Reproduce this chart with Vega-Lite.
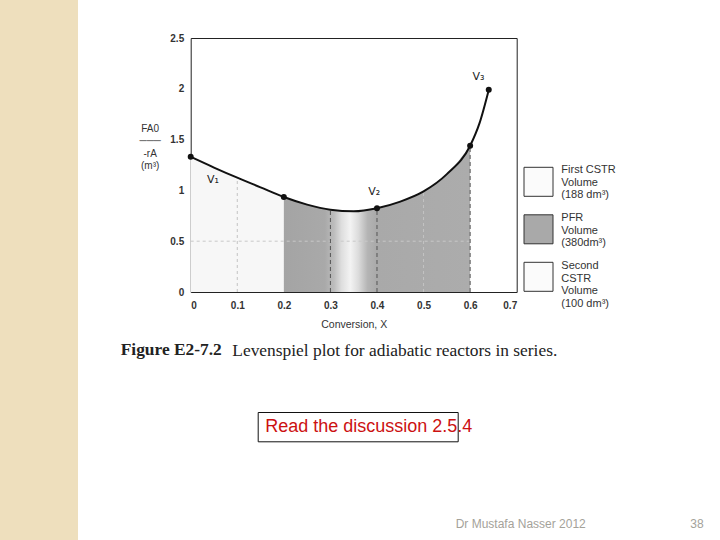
{
  "$schema": "https://vega.github.io/schema/vega-lite/v6.json",
  "padding": 0,
  "background": "white",
  "config": {
    "font": "Liberation Sans",
    "view": {"stroke": null},
    "axis": {"domain": false, "ticks": false, "grid": false}
  },
  "datasets": {
    "curve": [
      {"x": 0, "y": 1.33}, {"x": 0.05, "y": 1.225}, {"x": 0.1, "y": 1.125}, {"x": 0.15, "y": 1.03},
      {"x": 0.2, "y": 0.935}, {"x": 0.25, "y": 0.86}, {"x": 0.3, "y": 0.81}, {"x": 0.35, "y": 0.795},
      {"x": 0.4, "y": 0.825}, {"x": 0.45, "y": 0.89}, {"x": 0.5, "y": 0.99}, {"x": 0.55, "y": 1.16},
      {"x": 0.6, "y": 1.44}, {"x": 0.62, "y": 1.66}, {"x": 0.64, "y": 1.99}
    ],
    "pts": [{"x": 0, "y": 1.33}, {"x": 0.2, "y": 0.935}, {"x": 0.4, "y": 0.825}, {"x": 0.6, "y": 1.44}, {"x": 0.64, "y": 1.99}],
    "drops": [{"x": 0.3, "lo": 0, "top": 0.81}, {"x": 0.4, "lo": 0, "top": 0.825}, {"x": 0.6, "lo": 0, "top": 1.44}],
    "faint": [{"x": 0.1, "lo": 0, "top": 1.125}, {"x": 0.5, "lo": 0, "top": 0.99}],
    "labels": [{"x": 0.048, "y": 1.1, "t": "V₁"}, {"x": 0.394, "y": 0.98, "t": "V₂"}, {"x": 0.618, "y": 2.12, "t": "V₃"}],
    "legend": [
      {"kind": "First CSTR", "label": "First CSTR\nVolume\n(188 dm³)"},
      {"kind": "PFR", "label": "PFR\nVolume\n(380dm³)"},
      {"kind": "Second CSTR", "label": "Second\nCSTR\nVolume\n(100 dm³)"}
    ],
    "note": [{"t": "Read the discussion 2.5.4"}],
    "footer": [{"k": "credit", "t": "Dr Mustafa Nasser 2012"}, {"k": "page", "t": "38"}],
    "blank": [{"b": 1}]
  },
  "bounds": "flush",
  "spacing": 112.7,
  "hconcat": [
    {
      "width": 78, "height": 540,
      "view": {"fill": "#eedfbd", "stroke": null},
      "data": {"name": "blank"},
      "mark": {"type": "point", "size": 0, "opacity": 0},
      "encoding": {}
    },
    {
      "bounds": "flush",
      "spacing": 0,
      "vconcat": [
        {"width": 1, "height": 37.7, "data": {"name": "blank"}, "mark": {"type": "point", "size": 0, "opacity": 0}, "encoding": {}},
        {
          "bounds": "flush",
          "spacing": 7.3,
          "hconcat": [
            {
              "width": 326, "height": 254,
              "view": {"stroke": "#222", "strokeWidth": 1},
              "title": {"text": "Figure E2-7.2", "orient": "bottom", "anchor": "start", "frame": "group", "dx": -70, "offset": 11, "font": "Liberation Serif", "fontSize": 17.4, "fontWeight": "bold", "color": "#222"},
              "layer": [
                {
                  "data": {"name": "curve"},
                  "transform": [{"filter": "datum.x <= 0.2"}],
                  "mark": {"type": "area", "interpolate": "monotone", "color": "#f7f7f7"},
                  "encoding": {
                    "x": {"field": "x", "type": "quantitative", "scale": {"domain": [0, 0.7], "nice": false},
                      "axis": {"title": "Conversion, X", "values": [0, 0.1, 0.2, 0.3, 0.4, 0.5, 0.6, 0.7], "format": ".1~f", "labelFontSize": 10, "labelFontWeight": "bold", "labelColor": "#333", "labelPadding": 8, "titleFontSize": 10.5, "titleFontWeight": "normal", "titleColor": "#333", "titlePadding": 9}},
                    "y": {"field": "y", "type": "quantitative", "scale": {"domain": [0, 2.5], "nice": false},
                      "axis": {"title": ["FA0", "───", "-rA", "(m³)"], "values": [0, 0.5, 1, 1.5, 2, 2.5], "format": ".1~f", "labelFontSize": 10, "labelFontWeight": "bold", "labelColor": "#333", "labelPadding": 7, "titleAngle": 0, "titleAlign": "center", "titleBaseline": "middle", "titleX": -41, "titleY": 90, "titleFontSize": 10, "titleFontWeight": "normal", "titleColor": "#333", "titleLineHeight": 12.5}}
                  }
                },
                {
                  "data": {"name": "curve"},
                  "transform": [{"filter": "datum.x >= 0.2 && datum.x <= 0.6"}],
                  "mark": {"type": "area", "interpolate": "monotone",
                    "color": {"gradient": "linear", "x1": 0, "y1": 0, "x2": 1, "y2": 0, "stops": [
                      {"offset": 0, "color": "#a4a4a4"}, {"offset": 0.22, "color": "#a9a9a9"},
                      {"offset": 0.27, "color": "#bdbdbd"}, {"offset": 0.31, "color": "#dedede"},
                      {"offset": 0.357, "color": "#f3f3f3"}, {"offset": 0.4, "color": "#dcdcdc"},
                      {"offset": 0.45, "color": "#b4b4b4"}, {"offset": 0.5, "color": "#a9a9a9"},
                      {"offset": 1, "color": "#acacac"}]}},
                  "encoding": {
                    "x": {"field": "x", "type": "quantitative"},
                    "y": {"field": "y", "type": "quantitative"}
                  }
                },
                {
                  "data": {"name": "faint"},
                  "mark": {"type": "rule", "color": "#c4c4c4", "strokeDash": [3, 3], "strokeWidth": 1},
                  "encoding": {
                    "x": {"field": "x", "type": "quantitative"},
                    "y": {"field": "lo", "type": "quantitative"},
                    "y2": {"field": "top"}
                  }
                },
                {
                  "data": {"values": [{"a": 0, "b": 0.6, "h": 0.5}]},
                  "mark": {"type": "rule", "color": "#c8c8c8", "strokeDash": [3, 3], "strokeWidth": 1},
                  "encoding": {
                    "x": {"field": "a", "type": "quantitative"},
                    "x2": {"field": "b"},
                    "y": {"field": "h", "type": "quantitative"}
                  }
                },
                {
                  "data": {"name": "drops"},
                  "mark": {"type": "rule", "color": "#555", "strokeDash": [4, 3], "strokeWidth": 1},
                  "encoding": {
                    "x": {"field": "x", "type": "quantitative"},
                    "y": {"field": "lo", "type": "quantitative"},
                    "y2": {"field": "top"}
                  }
                },
                {
                  "data": {"name": "curve"},
                  "mark": {"type": "line", "interpolate": "monotone", "color": "#111", "strokeWidth": 2},
                  "encoding": {
                    "x": {"field": "x", "type": "quantitative"},
                    "y": {"field": "y", "type": "quantitative"}
                  }
                },
                {
                  "data": {"name": "pts"},
                  "mark": {"type": "point", "filled": true, "color": "#111", "size": 36, "opacity": 1},
                  "encoding": {
                    "x": {"field": "x", "type": "quantitative"},
                    "y": {"field": "y", "type": "quantitative"}
                  }
                },
                {
                  "data": {"name": "labels"},
                  "mark": {"type": "text", "font": "DejaVu Sans", "fontSize": 11, "color": "#222"},
                  "encoding": {
                    "x": {"field": "x", "type": "quantitative"},
                    "y": {"field": "y", "type": "quantitative"},
                    "text": {"field": "t"}
                  }
                }
              ]
            },
            {
              "width": 29, "height": 254,
              "data": {"name": "legend"},
              "mark": {"type": "point", "shape": "square", "size": 841, "stroke": "#333", "strokeWidth": 1, "filled": true, "opacity": 1},
              "encoding": {
                "y": {"field": "kind", "type": "nominal", "scale": {"type": "point", "padding": 0, "domain": ["First CSTR", "PFR", "Second CSTR"], "range": [143.8, 238.8]}, "axis": null},
                "color": {"field": "kind", "type": "nominal", "scale": {"domain": ["First CSTR", "PFR", "Second CSTR"], "range": ["#fbfbfb", "#a9a9a9", "#fbfbfb"]}, "legend": null}
              }
            },
            {
              "width": 2, "height": 254,
              "data": {"name": "legend"},
              "title": {"text": "Levenspiel plot for adiabatic reactors in series.", "orient": "bottom", "anchor": "start", "frame": "group", "dx": -328, "offset": 33, "font": "Liberation Serif", "fontSize": 17.4, "fontWeight": "normal", "color": "#222"},
              "mark": {"type": "text", "align": "left", "baseline": "middle", "lineBreak": "\n", "fontSize": 11, "lineHeight": 12.5, "color": "#333"},
              "encoding": {
                "y": {"field": "kind", "type": "nominal", "scale": {"type": "point", "padding": 0, "domain": ["First CSTR", "PFR", "Second CSTR"], "range": [132.3, 228.3]}, "axis": null},
                "text": {"field": "label"}
              }
            }
          ]
        },
        {"width": 1, "height": 373.3, "data": {"name": "blank"}, "mark": {"type": "point", "size": 0, "opacity": 0}, "encoding": {}},
        {
          "bounds": "flush",
          "spacing": 0,
          "hconcat": [
            {"width": 66.6, "height": 29.3, "data": {"name": "blank"}, "mark": {"type": "point", "size": 0, "opacity": 0}, "encoding": {}},
            {
              "width": 200, "height": 29.3,
              "view": {"stroke": "#111", "strokeWidth": 1},
              "data": {"name": "note"},
              "mark": {"type": "text", "color": "#cc1111", "fontSize": 18, "dx": 11},
              "encoding": {
                "x": {"field": "t", "type": "nominal", "axis": null},
                "y": {"field": "t", "type": "nominal", "axis": null},
                "text": {"field": "t"}
              }
            }
          ]
        },
        {"width": 1, "height": 102, "data": {"name": "blank"}, "mark": {"type": "point", "size": 0, "opacity": 0}, "encoding": {}},
        {
          "bounds": "flush",
          "spacing": 0,
          "hconcat": [
            {"width": 264.3, "height": 20, "data": {"name": "blank"}, "mark": {"type": "point", "size": 0, "opacity": 0}, "encoding": {}},
            {
              "width": 248, "height": 20,
              "data": {"name": "footer"},
              "layer": [
                {
                  "transform": [{"filter": "datum.k == 'credit'"}],
                  "mark": {"type": "text", "align": "left", "baseline": "middle", "fontSize": 12, "color": "#a4a29a"},
                  "encoding": {
                    "x": {"field": "k", "type": "nominal", "scale": {"type": "point", "domain": ["credit", "page"], "padding": 0}, "axis": null},
                    "text": {"field": "t"}
                  }
                },
                {
                  "transform": [{"filter": "datum.k == 'page'"}],
                  "mark": {"type": "text", "align": "right", "baseline": "middle", "fontSize": 12, "color": "#a4a29a"},
                  "encoding": {
                    "x": {"field": "k", "type": "nominal"},
                    "text": {"field": "t"}
                  }
                }
              ]
            }
          ]
        }
      ]
    }
  ]
}
